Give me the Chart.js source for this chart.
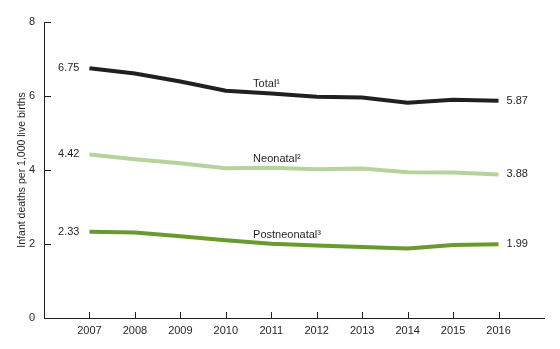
<!DOCTYPE html>
<html>
<head>
<meta charset="utf-8">
<script src="https://cdn.jsdelivr.net/npm/chart.js@4"></script>
<style>
  html, body { margin: 0; padding: 0; background: #fff; }
  #wrap { width: 560px; height: 349px; }
</style>
</head>
<body>
<div id="wrap"><canvas id="myChart"></canvas></div>
<script>
const years = [2007, 2008, 2009, 2010, 2011, 2012, 2013, 2014, 2015, 2016];
const total = [6.75, 6.61, 6.39, 6.14, 6.07, 5.98, 5.96, 5.82, 5.90, 5.87];
const neonatal = [4.42, 4.29, 4.18, 4.05, 4.06, 4.02, 4.04, 3.94, 3.93, 3.88];
const postneonatal = [2.33, 2.31, 2.21, 2.10, 2.01, 1.96, 1.92, 1.88, 1.97, 1.99];
const seriesNames = ['Total\u00b9', 'Neonatal\u00b2', 'Postneonatal\u00b3'];
const yTicks = [0, 2, 4, 6, 8];

const FONT = '"Liberation Sans", Arial, sans-serif';
Chart.defaults.font.family = FONT;
Chart.defaults.font.size = 11;
Chart.defaults.color = '#231f20';

const toPoints = arr => arr.map((v, i) => ({ x: years[i], y: v }));

const labelPlugin = {
  id: 'labels',
  afterDatasetsDraw(chart) {
    const { ctx, scales: { x, y } } = chart;
    ctx.save();
    // inward tick marks
    ctx.strokeStyle = '#231f20';
    ctx.lineWidth = 1;
    years.forEach(yr => {
      const px = Math.round(x.getPixelForValue(yr)) + 0.5;
      ctx.beginPath();
      ctx.moveTo(px, y.bottom);
      ctx.lineTo(px, y.bottom - 6);
      ctx.stroke();
    });
    yTicks.forEach(t => {
      const py = Math.round(y.getPixelForValue(t)) + 0.5;
      ctx.beginPath();
      ctx.moveTo(x.left, py);
      ctx.lineTo(x.left + 7, py);
      ctx.stroke();
    });
    ctx.font = '11px ' + FONT;
    ctx.fillStyle = '#231f20';
    ctx.textBaseline = 'middle';
    chart.data.datasets.forEach((ds, i) => {
      const d = ds.data;
      const first = d[0], last = d[d.length - 1];
      ctx.textAlign = 'right';
      ctx.fillText(first.y.toFixed(2), x.getPixelForValue(first.x) - 10, y.getPixelForValue(first.y));
      ctx.textAlign = 'left';
      ctx.fillText(last.y.toFixed(2), x.getPixelForValue(last.x) + 8, y.getPixelForValue(last.y));
      ctx.fillText(seriesNames[i], x.getPixelForValue(2010.6), y.getPixelForValue(d[4].y) - 9);
    });
    ctx.restore();
  }
};

new Chart(document.getElementById('myChart'), {
  type: 'line',
  data: {
    datasets: [
      { label: seriesNames[0], data: toPoints(total), borderColor: '#231f20', borderWidth: 4 },
      { label: seriesNames[1], data: toPoints(neonatal), borderColor: '#b5d39b', borderWidth: 4 },
      { label: seriesNames[2], data: toPoints(postneonatal), borderColor: '#6a9a2f', borderWidth: 4 }
    ]
  },
  options: {
    responsive: true,
    maintainAspectRatio: false,
    animation: false,
    layout: { padding: { top: 22, right: 16, left: 0, bottom: 0 } },
    elements: { point: { radius: 0 }, line: { tension: 0 } },
    plugins: { legend: { display: false }, tooltip: { enabled: false } },
    scales: {
      x: {
        type: 'linear',
        min: 2006,
        max: 2017,
        afterBuildTicks: s => { s.ticks = years.map(v => ({ value: v })); },
        afterFit: s => { s.height = 31; },
        grid: { display: false, drawTicks: false },
        border: { display: true, color: '#231f20', width: 1 },
        ticks: { padding: 6, autoSkip: false, maxRotation: 0, callback: v => String(v), color: '#231f20' }
      },
      y: {
        min: 0,
        max: 8,
        afterBuildTicks: s => { s.ticks = yTicks.map(v => ({ value: v })); },
        afterFit: s => { s.width = 44; },
        grid: { display: false, drawTicks: false },
        border: { display: true, color: '#231f20', width: 1 },
        ticks: { padding: 9, color: '#231f20' },
        title: { display: true, text: 'Infant deaths per 1,000 live births', font: { size: 10.5 }, padding: { top: 16, bottom: 0 }, color: '#231f20' }
      }
    }
  },
  plugins: [labelPlugin]
});
</script>
</body>
</html>
